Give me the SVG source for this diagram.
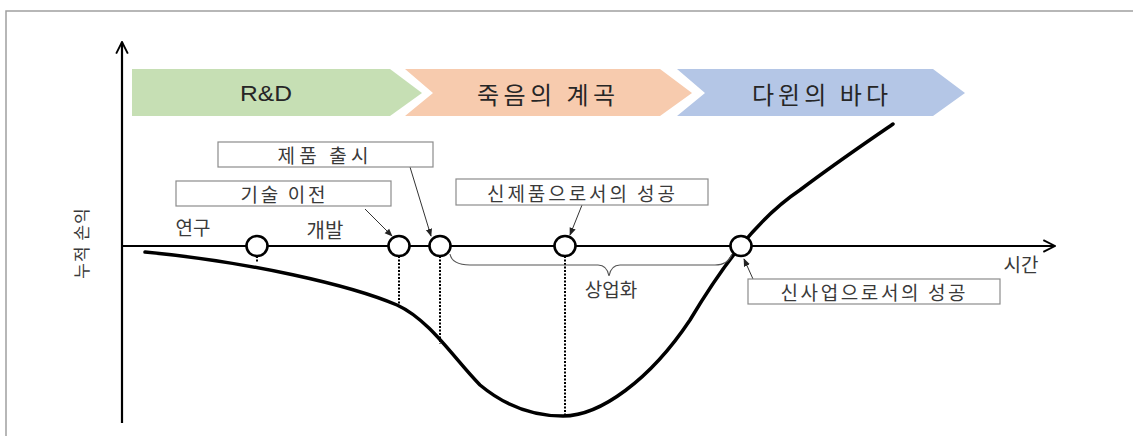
<svg xmlns="http://www.w3.org/2000/svg" width="1133" height="436" viewBox="0 0 1133 436">
<style>
text{font-family:"Noto Sans CJK KR","Liberation Sans",sans-serif;fill:#3a3a3a;}
.lbl{font-size:19px;text-anchor:middle;dominant-baseline:central;}
.box{fill:#fff;stroke:#8c8c8c;stroke-width:1.2;}
.pt{fill:#fff;stroke:#000;stroke-width:2.6;}
.dot{stroke:#000;stroke-width:2;stroke-dasharray:2 1.5;fill:none;}
.call{stroke:#333;stroke-width:1;fill:none;marker-end:url(#ah);}
.phase{font-size:24px;text-anchor:middle;dominant-baseline:central;fill:#262626;}
</style>
<defs>
<marker id="ah" viewBox="0 0 10 10" refX="9" refY="5" markerWidth="8" markerHeight="8" markerUnits="userSpaceOnUse" orient="auto">
<path d="M0,1 L10,5 L0,9 Z" fill="#222"/>
</marker>
<marker id="open" viewBox="0 0 12 12" refX="11" refY="6" markerWidth="14" markerHeight="14" markerUnits="userSpaceOnUse" orient="auto">
<path d="M1,1 L11,6 L1,11" fill="none" stroke="#000" stroke-width="1.6"/>
</marker>
</defs>
<rect width="1133" height="436" fill="#fff"/>
<path d="M6,436 L6,11 L1133,11" fill="none" stroke="#a0a0a0" stroke-width="1.5"/>

<g id="phases">
<g id="phase-rd">
<polygon points="132,69 390,69 422,93 390,116 132,116" fill="#c6dfb4"/>
<text class="phase" x="266" y="93" textLength="52" lengthAdjust="spacingAndGlyphs" style="font-family:'Liberation Sans',sans-serif;font-size:22px">R&amp;D</text>
</g>
<g id="phase-valley">
<polygon points="405,69 660,69 692,93 660,116 405,116 433,93" fill="#f7cbae"/>
<text class="phase" x="546" y="93" textLength="138">죽음의 계곡</text>
</g>
<g id="phase-sea">
<polygon points="677,69 933,69 965,93 933,116 677,116 705,93" fill="#b4c6e6"/>
<text class="phase" x="820" y="93" textLength="136">다윈의 바다</text>
</g>
</g>

<g id="axes">
<line x1="122" y1="423" x2="122" y2="42" stroke="#000" stroke-width="2.2" marker-end="url(#open)"/>
<line x1="122" y1="246" x2="1055" y2="246" stroke="#000" stroke-width="2" marker-end="url(#open)"/>
<text class="lbl" x="0" y="0" transform="translate(80,243) rotate(-90)" style="font-size:17px;letter-spacing:1px">누적 손익</text>
<text class="lbl" x="1021" y="263">시간</text>
<text class="lbl" x="193" y="226">연구</text>
<text class="lbl" x="325" y="229" style="font-size:20px">개발</text>
</g>

<g id="connectors">
<line class="dot" x1="257" y1="256" x2="257" y2="263"/>
<line class="dot" x1="399" y1="256" x2="399" y2="307"/>
<line class="dot" x1="440" y1="256" x2="440" y2="344"/>
<line class="dot" x1="565" y1="256" x2="565" y2="415"/>
<path d="M145,252 C250,262 350,285 397,305 C430,320 455,360 480,385 C510,410 540,416 563,416 C600,416 650,380 690,320 C720,270 755,220 800,190 C840,160 870,140 893,124" fill="none" stroke="#000" stroke-width="3.5" stroke-linecap="round"/>
<path d="M450,254 Q452,265 470,265 L598,265 Q607,265 609,276 Q611,265 620,265 L715,265 Q728,265 732,254" fill="none" stroke="#555" stroke-width="1.1"/>
<line class="call" x1="365" y1="209" x2="392" y2="236"/>
<line class="call" x1="410" y1="167" x2="431" y2="236"/>
<line class="call" x1="582" y1="205" x2="570" y2="235"/>
<line class="call" x1="753" y1="279" x2="744" y2="259"/>
</g>

<g id="points">
<ellipse class="pt" cx="257" cy="246" rx="10.5" ry="10"/>
<ellipse class="pt" cx="399" cy="246" rx="10.5" ry="10"/>
<ellipse class="pt" cx="440" cy="246" rx="10.5" ry="10"/>
<ellipse class="pt" cx="565" cy="246" rx="10.5" ry="10"/>
<ellipse class="pt" cx="741" cy="246" rx="10.5" ry="10"/>
</g>

<g id="label-launch">
<rect class="box" x="218" y="142" width="215" height="25"/>
<text class="lbl" x="323" y="154.5" textLength="91">제품 출시</text>
</g>
<g id="label-transfer">
<rect class="box" x="176" y="181" width="215" height="25"/>
<text class="lbl" x="283" y="193.5" textLength="85">기술 이전</text>
</g>
<g id="label-newproduct">
<rect class="box" x="456" y="179" width="252" height="26"/>
<text class="lbl" x="581" y="192" textLength="188">신제품으로서의 성공</text>
</g>
<g id="label-newbusiness">
<rect class="box" x="748" y="279" width="252" height="25"/>
<text class="lbl" x="873" y="291.5" textLength="185">신사업으로서의 성공</text>
</g>
<g id="label-commercial">
<text class="lbl" x="611" y="288" style="font-size:19px">상업화</text>
</g>
</svg>
